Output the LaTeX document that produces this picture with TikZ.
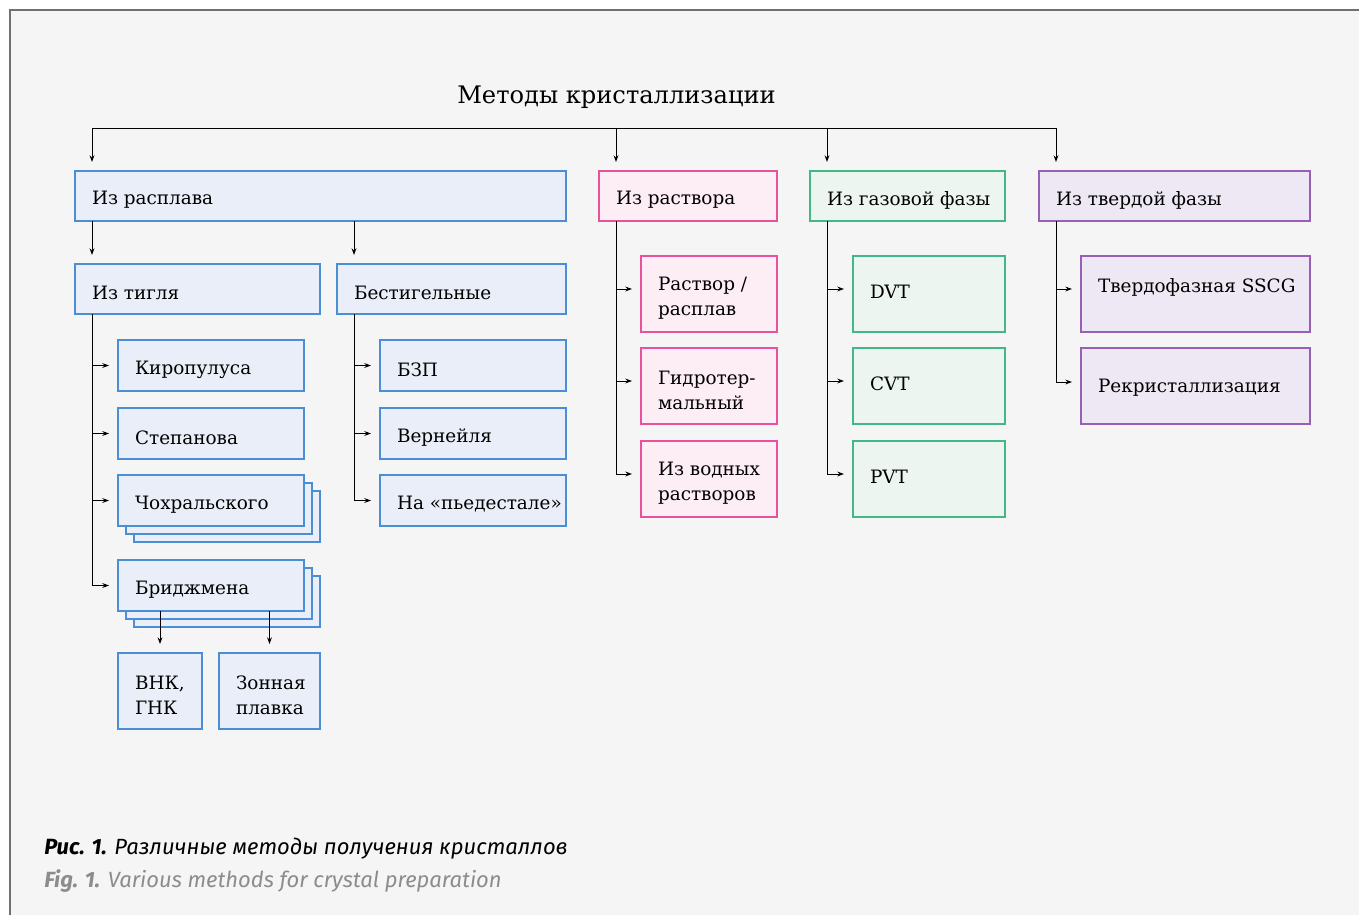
\documentclass[tikz,border=0pt]{standalone}
\usepackage{fontspec}
\setmainfont{DejaVu Serif}
\newfontfamily\capfont{Fira Sans}
\usetikzlibrary{arrows.meta,calc}

\definecolor{bg}{HTML}{F5F5F5}
\definecolor{frm}{HTML}{707070}
\definecolor{bfill}{HTML}{E9EEF8}
\definecolor{bline}{HTML}{4A8FD4}
\definecolor{pfill}{HTML}{FDEDF4}
\definecolor{pline}{HTML}{E8519C}
\definecolor{gfill}{HTML}{EDF5F1}
\definecolor{gline}{HTML}{42B88A}
\definecolor{vfill}{HTML}{EEE8F4}
\definecolor{vline}{HTML}{9860B4}
\definecolor{capgray}{HTML}{8C8C8C}

\newcommand\myrect[6]{%
  \pgfmathsetmacro\bw{(#5-#3)*0.75}%
  \pgfmathsetmacro\bh{(#6-#4)*0.75}%
  \node[#1, anchor=north west, minimum width=\bw pt, minimum height=\bh pt] (#2) at (#3,#4) {};%
}
\newcommand\mybox[8][-3pt]{%
  \myrect{#2}{#3}{#4}{#5}{#6}{#7}%
  \node[txt, anchor=west] (#3t) at ([xshift=12.75pt,yshift=#1]#3.west) {#8};%
}

\begin{document}
\begin{tikzpicture}[x=0.75pt, y=-0.75pt,
  box/.style={rectangle, inner sep=0pt, outer sep=0pt, line width=1pt},
  bbox/.style={box, draw=bline, fill=bfill},
  pbox/.style={box, draw=pline, fill=pfill},
  gbox/.style={box, draw=gline, fill=gfill},
  vbox/.style={box, draw=vline, fill=vfill},
  txt/.style={inner sep=0pt, outer sep=0pt, align=left, text=black, font=\fontsize{13.8}{18.75}\selectfont},
  conn/.style={draw=black, line width=0.75pt},
  arr/.style={conn, -{Stealth[length=5pt,width=3.6pt]}, shorten >=6.75pt},
  captxt/.style={inner sep=0pt, anchor=west, font=\capfont\itshape\fontsize{16.5}{20}\selectfont},
]
\useasboundingbox (0,0) rectangle (1359,915);
\fill[white] (0,0) rectangle (1359,915);
\fill[bg] (10,10) rectangle (1359,915);
\draw[frm, line width=1.5pt] (10,915) -- (10,10) -- (1359,10);

\node[inner sep=0pt, anchor=west, font=\fontsize{18.1}{22}\selectfont] (title) at (457,97) {Методы кристаллизации};

% level 1
\mybox{bbox}{melt}{75}{171}{566}{221}{Из расплава}
\mybox{pbox}{sol}{599}{171}{777}{221}{Из раствора}
\mybox{gbox}{gas}{810}{171}{1005}{221}{Из газовой фазы}
\mybox{vbox}{solid}{1039}{171}{1310}{221}{Из твердой фазы}

% level 2 (melt)
\mybox{bbox}{tig}{75}{264}{320}{314}{Из тигля}
\mybox{bbox}{bes}{337}{264}{566}{314}{Бестигельные}

\mybox{bbox}{kir}{118}{340}{304}{391}{Киропулуса}
\mybox{bbox}{ste}{118}{408}{304}{459}{Степанова}
\myrect{bbox}{choC}{134}{491}{320}{542}
\myrect{bbox}{choB}{126}{483}{312}{534}
\mybox{bbox}{cho}{118}{475}{304}{526}{Чохральского}
\myrect{bbox}{briC}{134}{576}{320}{627}
\myrect{bbox}{briB}{126}{568}{312}{619}
\mybox{bbox}{bri}{118}{560}{304}{611}{Бриджмена}

\mybox{bbox}{vnk}{118}{653}{202}{729}{ВНК,\\ГНК}
\mybox{bbox}{zon}{219}{653}{320}{729}{Зонная\\плавка}

\mybox{bbox}{bzp}{380}{340}{566}{391}{БЗП}
\mybox{bbox}{ver}{380}{408}{566}{459}{Вернейля}
\mybox{bbox}{ped}{380}{475}{566}{526}{На «пьедестале»}

% solution
\mybox{pbox}{rra}{641}{256}{777}{332}{Раствор /\\расплав}
\mybox{pbox}{rrb}{641}{348}{777}{424}{Гидротер-\\мальный}
\mybox{pbox}{rrc}{641}{441}{777}{517}{Из водных\\растворов}

% gas
\mybox[2pt]{gbox}{dvt}{853}{256}{1005}{332}{DVT}
\mybox[2pt]{gbox}{cvt}{853}{348}{1005}{424}{CVT}
\mybox[2pt]{gbox}{pvt}{853}{441}{1005}{517}{PVT}

% solid
\mybox{vbox}{ssc}{1081}{256}{1310}{332}{Твердофазная SSCG\\\mbox{}}
\mybox[-1.5pt]{vbox}{rek}{1081}{348}{1310}{424}{Рекристаллизация}

% bus
\coordinate (b1) at ($(melt.north west)+(17,-43)$);
\coordinate (b2) at ($(sol.north west)+(17,-43)$);
\coordinate (b3) at ($(gas.north west)+(17,-43)$);
\coordinate (b4) at ($(solid.north west)+(17,-43)$);
\draw[conn] (b1) -- (b4);
\draw[arr] (b1) -- (b1 |- melt.north);
\draw[arr] (b2) -- (b2 |- sol.north);
\draw[arr] (b3) -- (b3 |- gas.north);
\draw[arr] (b4) -- (b4 |- solid.north);

% melt -> level 2
\coordinate (tx) at ($(tig.north west)+(17,0)$);
\coordinate (bx) at ($(bes.north west)+(17,0)$);
\draw[arr] (tx |- melt.south) -- (tx);
\draw[arr] (bx |- melt.south) -- (bx);

% crucible branch
\coordinate (tt) at ($(tig.south west)+(17,0)$);
\draw[arr] (tt) |- (kir.west);
\draw[arr] (tt) |- (ste.west);
\draw[arr] (tt) |- (cho.west);
\draw[arr] (tt) |- (bri.west);

\draw[arr] (vnk.north |- bri.south) -- (vnk.north);
\draw[arr] (zon.north |- bri.south) -- (zon.north);

% crucible-free branch
\coordinate (bt) at ($(bes.south west)+(17,0)$);
\draw[arr] (bt) |- (bzp.west);
\draw[arr] (bt) |- (ver.west);
\draw[arr] (bt) |- (ped.west);

% solution branch
\coordinate (st) at ($(sol.south west)+(17,0)$);
\draw[arr] (st) |- ([yshift=3.75pt]rra.west);
\draw[arr] (st) |- ([yshift=3.75pt]rrb.west);
\draw[arr] (st) |- ([yshift=3.75pt]rrc.west);

% gas branch
\coordinate (gt) at ($(gas.south west)+(17,0)$);
\draw[arr] (gt) |- ([yshift=3.75pt]dvt.west);
\draw[arr] (gt) |- ([yshift=3.75pt]cvt.west);
\draw[arr] (gt) |- ([yshift=3.75pt]pvt.west);

% solid branch
\coordinate (vt) at ($(solid.south west)+(17,0)$);
\draw[arr] (vt) |- ([yshift=3.75pt]ssc.west);
\draw[arr] (vt) |- ([yshift=3pt]rek.west);

% caption
\node[captxt, text=black] (cap1) at (44,849) {\textbf{Рис. 1.} Различные методы получения кристаллов};
\node[captxt, text=capgray] (cap2) at (44,881) {\textbf{Fig. 1.} Various methods for crystal preparation};
\end{tikzpicture}
\end{document}
